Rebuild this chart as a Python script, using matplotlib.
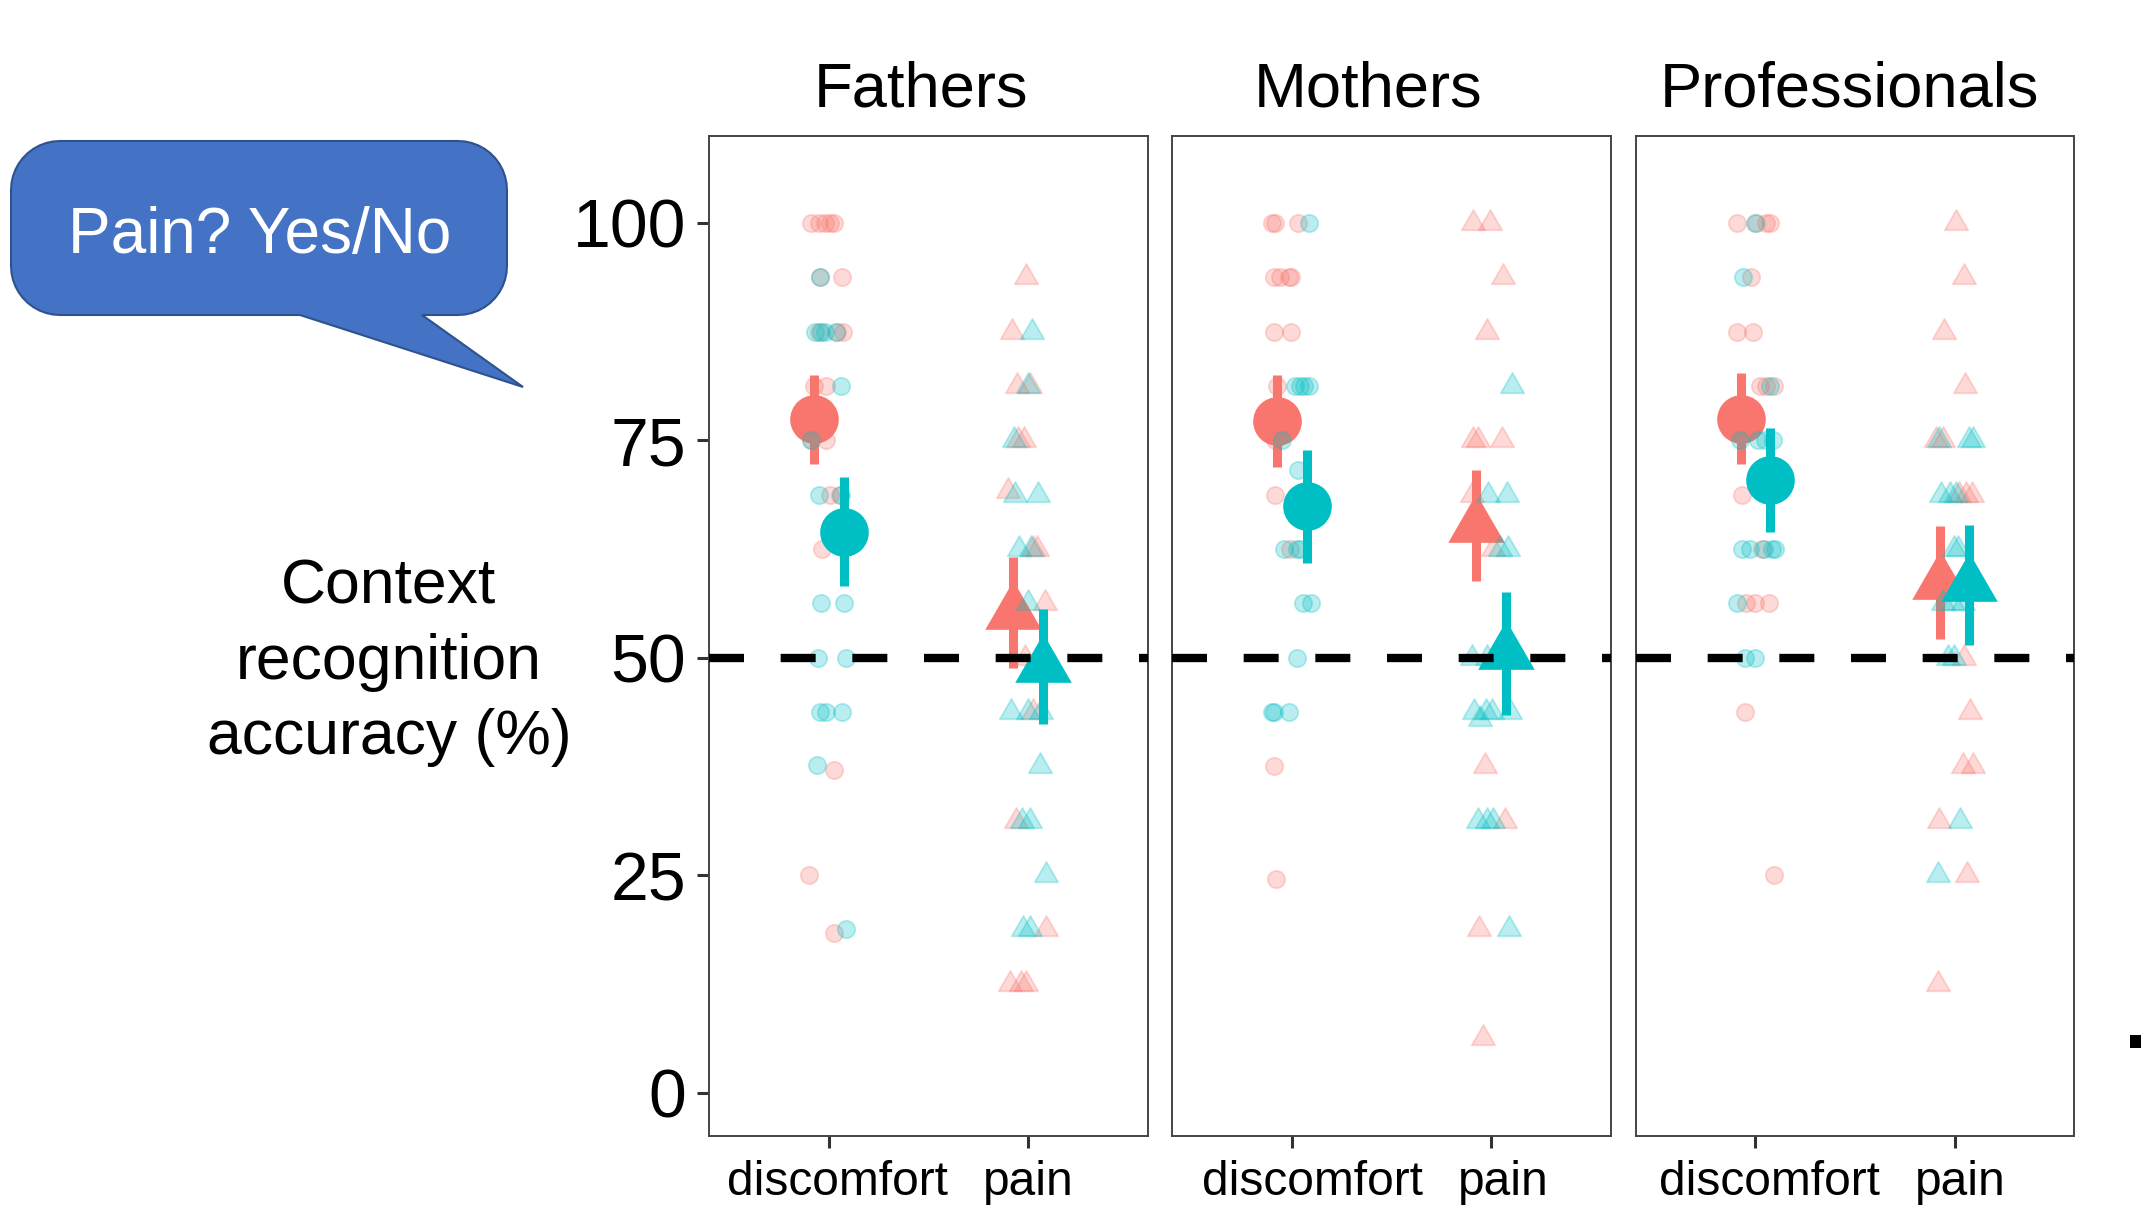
import matplotlib
matplotlib.use("Agg")
import matplotlib.pyplot as plt
from matplotlib.path import Path
from matplotlib.patches import Polygon, Rectangle
from matplotlib.transforms import ScaledTranslation
import numpy as np

plt.rcParams['font.family'] = ['Liberation Sans', 'DejaVu Sans']

# ---------------- data ----------------
panels = ["Fathers", "Mothers", "Professionals"]
categories = ["discomfort", "pain"]
yticks = [0, 25, 50, 75, 100]
chance_level = 50

RED = "#F8766D"
TEAL = "#00BFC4"

# individual points: (accuracy %, horizontal jitter in category units)
fathers_disc_red = [(100, -.087), (100, -.048), (100, -.020), (100, .005), (100, .027), (93.75, -.042),
                    (93.75, .067), (87.5, -.048), (87.5, .042), (87.5, .072), (81.25, -.074), (81.25, -.012),
                    (75, -.087), (75, -.015), (68.75, .005), (68.75, .055), (62.5, -.032), (37.1, .025),
                    (25, -.099), (18.4, .025)]
fathers_disc_teal = [(93.75, -.045), (87.5, -.070), (87.5, -.037), (87.5, -.020), (87.5, .038), (81.25, .063),
                     (75, -.087), (68.75, -.050), (68.75, .063), (56.25, -.037), (56.25, .077), (50, -.053),
                     (50, .089), (43.75, -.045), (43.75, -.012), (43.75, .069), (37.7, -.057), (18.75, .089)]
fathers_pain_red = [(93.75, -.013), (87.5, -.081), (81.25, -.056), (81.25, .011), (75, -.051), (75, -.023),
                    (69.2, -.101), (62.5, .044), (62.5, .024), (56.25, .083), (50, -.018), (43.75, .024),
                    (31.25, -.059), (18.75, .088), (12.5, -.093), (12.5, -.034), (12.5, -.009)]
fathers_pain_teal = [(87.5, .019), (81.25, -.001), (75, -.073), (68.75, -.068), (68.75, .049), (62.5, -.046),
                     (62.5, .013), (56.25, -.001), (43.75, -.089), (43.75, -.001), (43.75, .066), (37.5, .058),
                     (31.25, -.029), (31.25, .008), (25, .088), (18.75, -.026), (18.75, .008)]

mothers_disc_red = [(100, -.097), (100, -.084), (100, .030), (93.75, -.087), (93.75, -.058), (93.75, -.013),
                    (93.75, -.003), (87.5, -.087), (87.5, -.003), (81.25, -.075), (75, -.084), (68.75, -.084),
                    (62.5, -.008), (37.5, -.090), (24.6, -.079)]
mothers_disc_teal = [(100, .087), (81.25, .017), (81.25, .042), (81.25, .063), (81.25, .087), (75, -.050),
                     (71.6, .030), (62.5, -.037), (62.5, .025), (62.5, .042), (56.25, .055), (56.25, .097),
                     (50, .028), (43.75, -.097), (43.75, -.087), (43.75, -.012)]
mothers_pain_red = [(100, -.090), (100, -.006), (93.75, .057), (87.5, -.023), (75, -.090), (75, -.065),
                    (75, .056), (68.75, -.098), (62.5, .011), (37.5, -.031), (31.25, .069), (18.75, -.061),
                    (6.25, -.039)]
mothers_pain_teal = [(81.25, .103), (68.75, -.014), (68.75, .078), (62.5, .044), (62.5, .086), (50, -.098),
                     (50, -.023), (43.75, -.085), (43.0, -.056), (43.75, -.028), (43.75, .006), (43.75, .094),
                     (31.25, -.065), (31.25, -.023), (31.25, .011), (18.75, .089)]

prof_disc_red = [(100, -.092), (100, .005), (100, .055), (100, .072), (93.75, -.020), (87.5, -.095),
                 (87.5, -.012), (81.25, .022), (81.25, .052), (81.25, .092), (68.75, -.070), (62.5, .035),
                 (56.25, -.045), (56.25, -.003), (56.25, .069), (43.75, -.053), (25, .092)]
prof_disc_teal = [(100, -.003), (93.75, -.062), (81.25, .072), (75, -.079), (75, .013), (75, .047), (75, .089),
                  (62.5, -.070), (62.5, -.028), (62.5, .042), (62.5, .085), (62.5, .097), (56.25, -.092),
                  (50, -.053), (50, -.003)]
prof_pain_red = [(100, .007), (93.75, .049), (87.5, -.051), (81.25, .051), (75, -.093), (75, -.056),
                 (68.75, .024), (68.75, .057), (68.75, .088), (50, .049), (43.75, .079), (37.5, .041),
                 (37.5, .091), (31.25, -.080), (25, .061), (12.5, -.085)]
prof_pain_teal = [(75, -.080), (75, .071), (75, .094), (68.75, -.068), (68.75, -.023), (68.75, .007),
                  (62.5, -.001), (62.5, .016), (56.25, -.060), (56.25, -.009), (56.25, .041), (50, -.034),
                  (50, -.001), (31.25, .029), (25, -.085)]

# group means and error half-widths, one value per panel
red_disc_mean = [77.4, 77.2, 77.5]
red_disc_err = [5.1, 5.3, 5.25]
teal_disc_mean = [64.5, 67.4, 70.45]
teal_disc_err = [6.3, 6.45, 6.0]
red_pain_mean = [55.2, 65.2, 58.6]
red_pain_err = [6.4, 6.35, 6.5]
teal_pain_mean = [49.0, 50.5, 58.4]
teal_pain_err = [6.6, 7.1, 6.9]

points = {
    "Fathers": {"discomfort": (fathers_disc_red, fathers_disc_teal), "pain": (fathers_pain_red, fathers_pain_teal)},
    "Mothers": {"discomfort": (mothers_disc_red, mothers_disc_teal), "pain": (mothers_pain_red, mothers_pain_teal)},
    "Professionals": {"discomfort": (prof_disc_red, prof_disc_teal), "pain": (prof_pain_red, prof_pain_teal)},
}
means = {
    "discomfort": ((red_disc_mean, red_disc_err), (teal_disc_mean, teal_disc_err)),
    "pain": ((red_pain_mean, red_pain_err), (teal_pain_mean, teal_pain_err)),
}

# ---------------- style ----------------
W, H = 2141, 1208
fig = plt.figure(figsize=(W / 100, H / 100), dpi=100)

tri = Path([(0, 1), (-0.866, -0.5), (0.866, -0.5), (0, 1)],
           [Path.MOVETO, Path.LINETO, Path.LINETO, Path.CLOSEPOLY])
shape = {"discomfort": "o", "pain": tri}
small_size = {"discomfort": 12.5, "pain": 19.5}
big_size = {"discomfort": 35, "pain": 47}
dodge = 0.075

ax_left = [709, 1172, 1636]
ax_width = [439, 439, 438]
ax_top, ax_bottom = 136, 1136
title_x = [0.482, 0.446, 0.487]
# horizontal nudge of the x tick labels (pixels), as placed in the original figure
label_shift = [(9, 0), (21, 12), (14, 6)]

# overlay for annotations (pixel coordinates)
ov = fig.add_axes([0, 0, 1, 1])
ov.set_xlim(0, W)
ov.set_ylim(H, 0)
ov.axis("off")

for i, panel in enumerate(panels):
    ax = fig.add_axes([ax_left[i] / W, (H - ax_bottom) / H, ax_width[i] / W, (ax_bottom - ax_top) / H])
    ax.set_xlim(0.4, 2.6)
    ax.set_ylim(-5, 110)
    for j, cat in enumerate(categories):
        xc = j + 1
        (rm, re), (tm, te) = means[cat]
        red_pts, teal_pts = points[panel][cat]
        layers = [(red_pts, RED, rm[i], re[i], -dodge, 2), (teal_pts, TEAL, tm[i], te[i], dodge, 4)]
        for pts, col, m, e, dx, z in layers:
            vals = np.array([p[0] for p in pts])
            jit = np.array([p[1] for p in pts])
            ax.plot(xc + jit, vals, linestyle="none", marker=shape[cat], markersize=small_size[cat],
                    color=col, alpha=0.27, markeredgewidth=1.3, zorder=z)
            ax.vlines(xc + dx, m - e, m + e, color=col, lw=6.5, zorder=z + 1)
            ax.plot([xc + dx], [m], linestyle="none", marker=shape[cat], markersize=big_size[cat],
                    color=col, markeredgewidth=0, zorder=z + 1)
    ax.axhline(chance_level, color="black", lw=6, linestyle=(0, (4.2, 4.4)), zorder=10)
    ax.set_xticks([1, 2])
    ax.set_xticklabels(categories, fontsize=34.5)
    ax.tick_params(axis="x", length=8.6, width=2.2, color="#333333", pad=9)
    for lab, sh in zip(ax.get_xticklabels(), label_shift[i]):
        lab.set_transform(lab.get_transform() + ScaledTranslation(sh / 100, 0, fig.dpi_scale_trans))
    if i == 0:
        ax.set_yticks(yticks)
        ax.set_yticklabels([str(t) for t in yticks], fontsize=49)
        ax.tick_params(axis="y", length=8.6, width=2.2, color="#333333", pad=8)
    else:
        ax.set_yticks([])
    for s in ax.spines.values():
        s.set_color("#444444")
        s.set_linewidth(1.4)
    ax.set_title(panel, fontsize=45.5, pad=21, x=title_x[i])

# y label
fig.text(389 / W, 1 - 662 / H, "Context\nrecognition\naccuracy (%)", ha="center", va="center",
         multialignment="center", fontsize=45, linespacing=1.35)

# speech bubble
x0, x1, y0, y1, r = 11, 507, 141, 315, 49
def arc(cx, cy, a0, a1, n=12):
    t = np.linspace(np.radians(a0), np.radians(a1), n)
    return list(zip(cx + r * np.cos(t), cy + r * np.sin(t)))
verts = []
verts += arc(x1 - r, y0 + r, -90, 0)
verts += arc(x1 - r, y1 - r, 0, 90)
verts += [(422, y1), (523, 387), (300, y1)]
verts += arc(x0 + r, y1 - r, 90, 180)
verts += arc(x0 + r, y0 + r, 180, 270)
ov.add_patch(Polygon(verts, closed=True, facecolor="#4472C4", edgecolor="#2F528F", lw=1.5))
ov.text(260, 253, "Pain? Yes/No", color="white", fontsize=46, ha="center", va="baseline")

# stray mark at right edge (part of a cut-off neighbouring panel)
ov.add_patch(Rectangle((2130, 1035), 12, 13, facecolor="black", edgecolor="none"))

fig.savefig("out.png", dpi=100)
